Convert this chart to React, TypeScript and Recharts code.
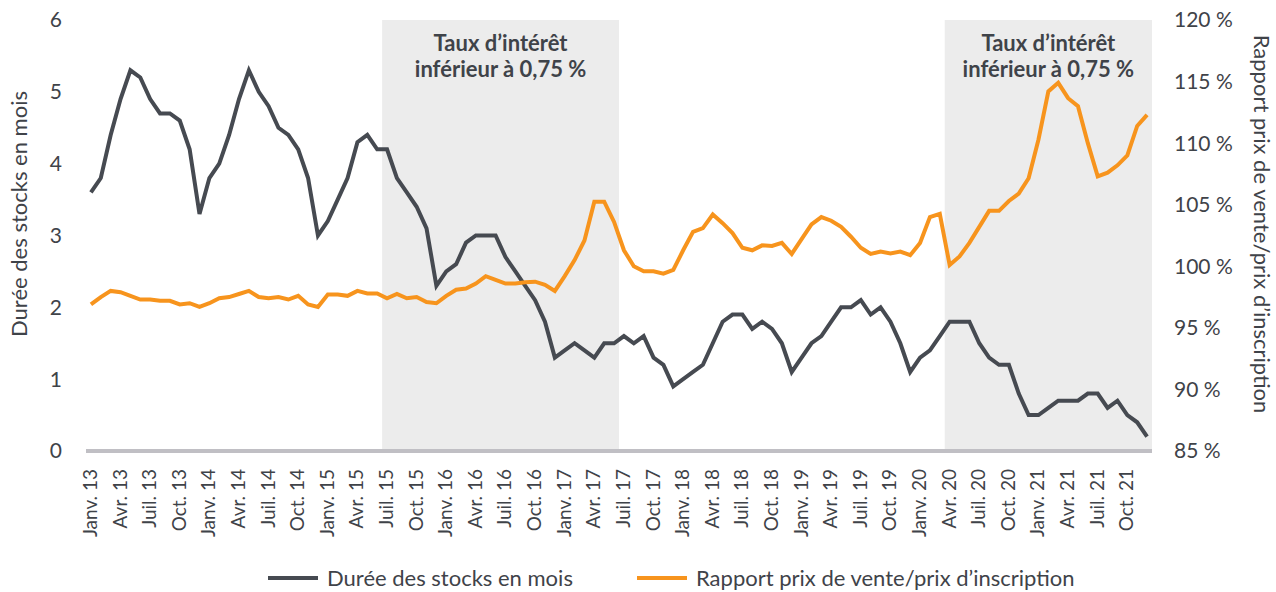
import React from 'react'
import { LineChart, Line, XAxis, YAxis, ReferenceArea } from 'recharts'

// one label every 3 months, Jan 2013 -> Oct 2021
const tickLabels = [
  'Janv. 13', 'Avr. 13', 'Juil. 13', 'Oct. 13',
  'Janv. 14', 'Avr. 14', 'Juil. 14', 'Oct. 14',
  'Janv. 15', 'Avr. 15', 'Juil. 15', 'Oct. 15',
  'Janv. 16', 'Avr. 16', 'Juil. 16', 'Oct. 16',
  'Janv. 17', 'Avr. 17', 'Juil. 17', 'Oct. 17',
  'Janv. 18', 'Avr. 18', 'Juil. 18', 'Oct. 18',
  'Janv. 19', 'Avr. 19', 'Juil. 19', 'Oct. 19',
  'Janv. 20', 'Avr. 20', 'Juil. 20', 'Oct. 20',
  'Janv. 21', 'Avr. 21', 'Juil. 21', 'Oct. 21',
]

// monthly, Jan 2013 -> Dec 2021
const stockMonths = [
  3.6, 3.8, 4.4, 4.9, 5.3, 5.2, 4.9, 4.7, 4.7, 4.6, 4.2, 3.3,
  3.8, 4.0, 4.4, 4.9, 5.3, 5.0, 4.8, 4.5, 4.4, 4.2, 3.8, 3.0,
  3.2, 3.5, 3.8, 4.3, 4.4, 4.2, 4.2, 3.8, 3.6, 3.4, 3.1, 2.3,
  2.5, 2.6, 2.9, 3.0, 3.0, 3.0, 2.7, 2.5, 2.3, 2.1, 1.8, 1.3,
  1.4, 1.5, 1.4, 1.3, 1.5, 1.5, 1.6, 1.5, 1.6, 1.3, 1.2, 0.9,
  1.0, 1.1, 1.2, 1.5, 1.8, 1.9, 1.9, 1.7, 1.8, 1.7, 1.5, 1.1,
  1.3, 1.5, 1.6, 1.8, 2.0, 2.0, 2.1, 1.9, 2.0, 1.8, 1.5, 1.1,
  1.3, 1.4, 1.6, 1.8, 1.8, 1.8, 1.5, 1.3, 1.2, 1.2, 0.8, 0.5,
  0.5, 0.6, 0.7, 0.7, 0.7, 0.8, 0.8, 0.6, 0.7, 0.5, 0.4, 0.2,
]

const priceRatio = [
  96.9, 97.5, 98.0, 97.9, 97.6, 97.3, 97.3, 97.2, 97.2, 96.9, 97.0, 96.7,
  97.0, 97.4, 97.5, 97.75, 98.0, 97.5, 97.4, 97.5, 97.3, 97.6, 96.9, 96.7,
  97.7, 97.7, 97.6, 98.0, 97.8, 97.8, 97.4, 97.75, 97.4, 97.5, 97.1, 97.0,
  97.6, 98.1, 98.2, 98.6, 99.2, 98.9, 98.6, 98.6, 98.7, 98.75, 98.5, 98.0,
  99.2, 100.5, 102.1, 105.25, 105.25, 103.6, 101.3, 100.0, 99.6, 99.6, 99.4, 99.7,
  101.3, 102.8, 103.1, 104.2, 103.5, 102.7, 101.5, 101.3, 101.7, 101.65, 101.9, 101.0,
  102.2, 103.4, 104.0, 103.7, 103.2, 102.4, 101.5, 101.0, 101.2, 101.05, 101.2, 100.9,
  101.9, 104.0, 104.25, 100.1, 100.8, 101.9, 103.2, 104.5, 104.5, 105.3, 105.9, 107.15,
  110.3, 114.2, 114.9, 113.65, 113.0, 110.0, 107.3, 107.6, 108.2, 109.0, 111.4, 112.3,
]

// periods with the policy rate below 0.75 % (month index, inclusive)
const lowRatePeriods = [
  [30, 53],
  [87, 107],
]

const DARK = '#464a51'
const ORANGE = '#f7941d'
const TEXT = '#3f4349'
const FONT = 'Lato, sans-serif'

const data = stockMonths.map((v, i) => ({ i, stock: v, ratio: priceRatio[i] }))
const tickIdx = tickLabels.map((_, k) => k * 3)

function MonthTick(props: any) {
  const { x, y, payload } = props
  const label = tickLabels[payload.value / 3]
  return (
    <text
      x={x + 6}
      y={y}
      transform={`rotate(-90 ${x + 6} ${y})`}
      textAnchor="end"
      fill={TEXT}
      fontSize={19}
      fontFamily={FONT}
    >
      {label}
    </text>
  )
}

function shadeLabel(props: any) {
  const { x, y, width } = props.viewBox
  const cx = x + width / 2
  return (
    <text textAnchor="middle" fill={TEXT} fontSize={22} fontWeight={700} fontFamily={FONT}>
      <tspan x={cx} y={y + 31}>Taux d’intérêt</tspan>
      <tspan x={cx} y={y + 57}>inférieur à 0,75 %</tspan>
    </text>
  )
}

function LegendItem({ color, text, left }: { color: string; text: string; left: number }) {
  return (
    <div style={{ position: 'absolute', left, top: 564, display: 'flex', alignItems: 'center' }}>
      <div style={{ width: 50, height: 4, background: color, marginRight: 9 }} />
      <span style={{ fontSize: 22, color: TEXT, fontFamily: FONT, lineHeight: '28px' }}>{text}</span>
    </div>
  )
}

export default function App() {
  return (
    <div style={{ position: 'absolute', left: 0, top: 0, width: 1276, height: 592, background: '#fff' }}>
      <LineChart width={1276} height={592} data={data} margin={{ top: 20, right: 0, left: 0, bottom: 41 }}>
        {lowRatePeriods.map(([a, b], k) => (
          <ReferenceArea
            key={k}
            yAxisId="left"
            x1={a - 0.5}
            x2={b + 0.5}
            fill="#ececec"
            fillOpacity={1}
            stroke="none"
            label={shadeLabel}
          />
        ))}
        <XAxis
          dataKey="i"
          type="number"
          domain={[-0.5, 107.5]}
          ticks={tickIdx}
          interval={0}
          height={100}
          tick={<MonthTick />}
          tickLine={false}
          tickMargin={12}
          axisLine={{ stroke: '#c0bfc4', strokeWidth: 4 }}
          allowDataOverflow
        />
        <YAxis
          yAxisId="left"
          domain={[0, 6]}
          ticks={[0, 1, 2, 3, 4, 5, 6]}
          width={86}
          axisLine={false}
          tickLine={false}
          tickMargin={18}
          tick={{ fill: TEXT, fontSize: 21, fontFamily: FONT }}
          label={() => (
            <text
              x={27}
              y={214}
              transform="rotate(-90 27 214)"
              textAnchor="middle"
              fill={TEXT}
              fontSize={22}
              fontFamily={FONT}
            >
              Durée des stocks en mois
            </text>
          )}
        />
        <YAxis
          yAxisId="right"
          orientation="right"
          domain={[85, 120]}
          ticks={[85, 90, 95, 100, 105, 110, 115, 120]}
          width={124}
          axisLine={false}
          tickLine={false}
          tickMargin={16}
          tickFormatter={(v) => `${v} %`}
          tick={{ fill: TEXT, fontSize: 21, fontFamily: FONT }}
          label={() => (
            <text
              x={1254}
              y={224}
              transform="rotate(90 1254 224)"
              textAnchor="middle"
              fill={TEXT}
              fontSize={22}
              fontFamily={FONT}
            >
              Rapport prix de vente/prix d’inscription
            </text>
          )}
        />
        <Line
          yAxisId="left"
          dataKey="stock"
          name="Durée des stocks en mois"
          stroke={DARK}
          strokeWidth={4}
          dot={false}
          type="linear"
          isAnimationActive={false}
        />
        <Line
          yAxisId="right"
          dataKey="ratio"
          name="Rapport prix de vente/prix d’inscription"
          stroke={ORANGE}
          strokeWidth={4}
          dot={false}
          type="linear"
          isAnimationActive={false}
        />
      </LineChart>
      <LegendItem color={DARK} text="Durée des stocks en mois" left={268} />
      <LegendItem color={ORANGE} text="Rapport prix de vente/prix d’inscription" left={637} />
    </div>
  )
}
